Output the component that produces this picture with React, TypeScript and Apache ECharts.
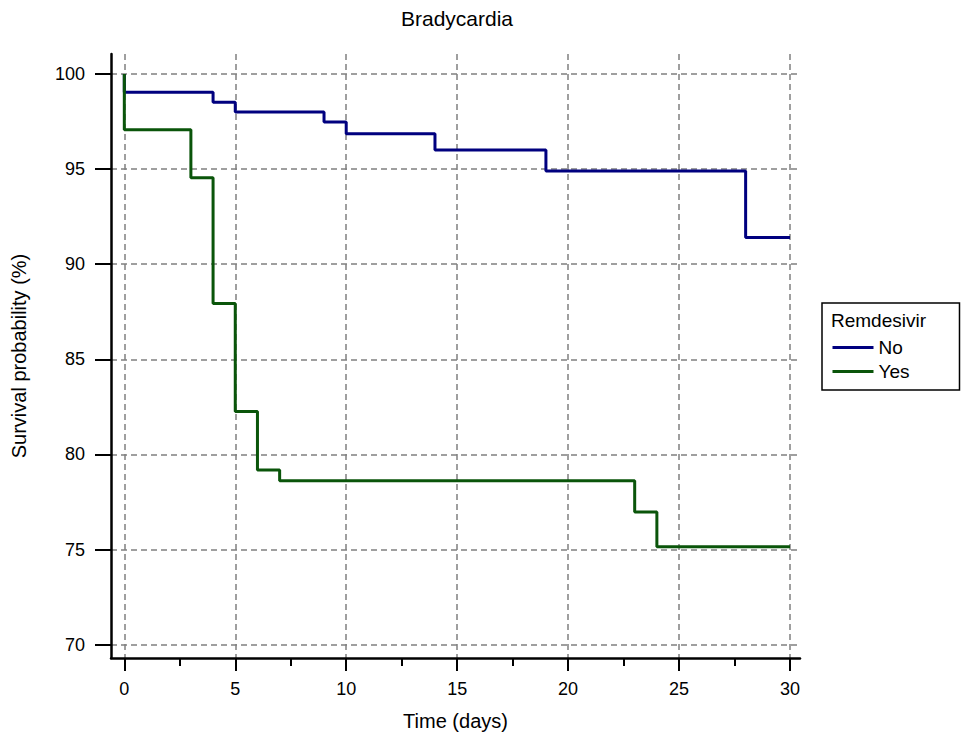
import React, { useEffect, useRef } from "react";
import * as echarts from "echarts";

const chartTitle = "Bradycardia";
const legendTitle = "Remdesivir";
const groupNames = ["No", "Yes"];

const noTimes = [0, 0, 4, 5, 9, 10, 14, 19, 28, 30];
const noSurvival = [100, 99.04, 98.52, 98.0, 97.47, 96.86, 96.0, 94.9, 91.4, 91.4];

const yesTimes = [0, 0, 3, 4, 5, 6, 7, 23, 24, 30];
const yesSurvival = [100, 97.07, 94.55, 87.93, 82.26, 79.18, 78.62, 76.98, 75.15, 75.15];

const xMajorTicks = [0, 5, 10, 15, 20, 25, 30];
const xMinorTicks = [2.5, 7.5, 12.5, 17.5, 22.5, 27.5];
const yMajorTicks = [70, 75, 80, 85, 90, 95, 100];

const FONT = "'Liberation Sans', Arial, Helvetica, sans-serif";

function zip(xs: number[], ys: number[]) {
  return xs.map((x, i) => [x, ys[i]]);
}

export default function App() {
  const ref = useRef<HTMLDivElement>(null);
  useEffect(() => {
    if (!ref.current) return;
    const chart = echarts.init(ref.current, null, { renderer: "svg" });
    const gridLine = { show: true, lineStyle: { color: "#808080", width: 1.5, type: [6, 4] } };
    chart.setOption({
      animation: false,
      backgroundColor: "#ffffff",
      textStyle: { fontFamily: FONT, color: "#000" },
      grid: { left: 111, right: 166, top: 54, bottom: 74, containLabel: false },
      graphic: [
        {
          type: "text",
          x: 457,
          y: 18,
          style: { text: chartTitle, fontSize: 21, fontFamily: FONT, fill: "#000", textAlign: "center", textVerticalAlign: "middle" },
        },
        {
          type: "text",
          x: 831,
          y: 320,
          z: 10,
          style: { text: legendTitle, fontSize: 19, fontFamily: FONT, fill: "#000", textAlign: "left", textVerticalAlign: "middle" },
        },
      ],
      legend: {
        data: groupNames,
        orient: "vertical",
        left: 822,
        top: 303,
        padding: [35, 50, 9, 9],
        itemWidth: 41,
        itemHeight: 14,
        itemGap: 5,
        borderColor: "#000",
        borderWidth: 1.5,
        backgroundColor: "#fff",
        itemStyle: { opacity: 0 },
        lineStyle: { width: 3 },
        textStyle: { fontSize: 19, fontFamily: FONT, color: "#000" },
      },
      xAxis: [
        {
          type: "value",
          min: -0.6,
          max: 30.45,
          name: "Time (days)",
          nameLocation: "middle",
          nameGap: 53,
          nameTextStyle: { fontSize: 20, fontFamily: FONT, color: "#000" },
          axisLine: { show: true, onZero: false, lineStyle: { color: "#000", width: 2.5 } },
          axisTick: { show: true, customValues: xMajorTicks, length: 13, lineStyle: { color: "#000", width: 2 } },
          axisLabel: { customValues: xMajorTicks, fontSize: 18, color: "#000", margin: 22, fontFamily: FONT },
          splitLine: gridLine,
        },
        {
          type: "value",
          min: -0.6,
          max: 30.45,
          position: "bottom",
          axisLine: { show: false },
          axisTick: { show: true, customValues: xMinorTicks, length: 8, lineStyle: { color: "#000", width: 2 } },
          axisLabel: { show: false },
          splitLine: { show: false },
        },
      ],
      yAxis: {
        type: "value",
        min: 69.3,
        max: 101.05,
        name: "Survival probability (%)",
        nameLocation: "middle",
        nameGap: 82,
        nameTextStyle: { fontSize: 20, fontFamily: FONT, color: "#000" },
        axisLine: { show: true, onZero: false, lineStyle: { color: "#000", width: 2.5 } },
        axisTick: { show: true, customValues: yMajorTicks, length: 16, lineStyle: { color: "#000", width: 2 } },
        axisLabel: { customValues: yMajorTicks, fontSize: 18, color: "#000", margin: 26, fontFamily: FONT },
        splitLine: gridLine,
      },
      series: [
        {
          name: groupNames[0],
          type: "line",
          step: "end",
          symbol: "none",
          data: zip(noTimes, noSurvival),
          color: "#00007f",
          lineStyle: { color: "#00007f", width: 3 },
        },
        {
          name: groupNames[1],
          type: "line",
          step: "end",
          symbol: "none",
          data: zip(yesTimes, yesSurvival),
          color: "#0a550a",
          lineStyle: { color: "#0a550a", width: 3 },
        },
      ],
    });
    return () => chart.dispose();
  }, []);
  return <div ref={ref} style={{ position: "absolute", left: 0, top: 0, width: 966, height: 736 }} />;
}
